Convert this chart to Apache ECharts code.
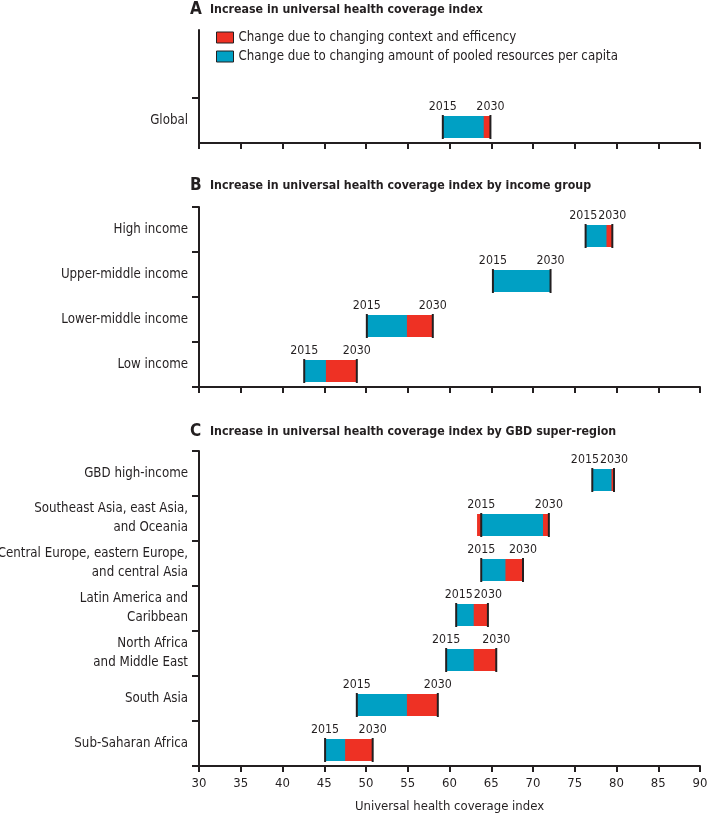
<!DOCTYPE html>
<html><head><meta charset="utf-8">
<script src="https://cdn.jsdelivr.net/npm/echarts@6/dist/echarts.min.js"></script>
<style>html,body{margin:0;padding:0;background:#fff}#c{width:708px;height:815px}</style>
</head><body><div id="c"></div>
<script>
// ---------- data ----------
const seriesNames = ['Change due to changing context and efficency', 'Change due to changing amount of pooled resources per capita'];
const yearLabels = ['2015', '2030'];

const globalCats = ['Global'];
const global2015 = [59.2];
const globalPooledEnd = [64.1];
const global2030 = [64.9];
const globalRedStart = [59.2];

const incomeCats = ['High income', 'Upper-middle income', 'Lower-middle income', 'Low income'];
const income2015 = [76.3, 65.2, 50.1, 42.6];
const incomePooledEnd = [78.8, 72.1, 54.9, 45.2];
const income2030 = [79.5, 72.1, 58.0, 48.9];
const incomeRedStart = [76.3, 65.2, 50.1, 42.6];

const regionCats = ['GBD high-income', 'Southeast Asia, east Asia,\nand Oceania', 'Central Europe, eastern Europe,\nand central Asia', 'Latin America and\nCaribbean', 'North Africa\nand Middle East', 'South Asia', 'Sub-Saharan Africa'];
const region2015 = [77.1, 63.8, 63.8, 60.8, 59.6, 48.9, 45.1];
const regionPooledEnd = [79.4, 71.2, 66.7, 62.9, 62.9, 54.9, 47.5];
const region2030 = [79.7, 71.9, 68.8, 64.6, 65.6, 58.6, 50.8];
const regionRedStart = [77.1, 63.3, 63.8, 60.8, 59.6, 48.9, 45.1];

const titles = [
  ['A', 'Increase in universal health coverage index'],
  ['B', 'Increase in universal health coverage index by income group'],
  ['C', 'Increase in universal health coverage index by GBD super-region']
];
const xAxisName = 'Universal health coverage index';

// ---------- style ----------
const RED = '#EE3124', BLUE = '#00A0C4', INK = '#231F20';
const NARROW = "'DejaVu Sans Condensed', 'Liberation Sans', sans-serif";
const BAR_H = 22, OFF = 6.5;

function rows(cats, y15, pe, y30, rs, yOf) {
  return cats.map((c, i) => ({ y: yOf(i), s: y15[i], p: pe[i], e: y30[i], r: rs[i] }));
}
const panels = [
  rows(globalCats, global2015, globalPooledEnd, global2030, globalRedStart, i => i + 0.5),
  rows(incomeCats, income2015, incomePooledEnd, income2030, incomeRedStart, i => i),
  rows(regionCats, region2015, regionPooledEnd, region2030, regionRedStart, i => i)
];

function rectRender(color) {
  return function (params, api) {
    const y = api.value(0), a = api.value(1), b = api.value(2);
    const p1 = api.coord([a, y]), p2 = api.coord([b, y]);
    if (p2[0] - p1[0] <= 0) return null;
    return { type: 'rect', shape: { x: p1[0], y: p1[1] + OFF - BAR_H / 2, width: p2[0] - p1[0], height: BAR_H },
      style: { fill: color } };
  };
}
function markRender(params, api) {
  const y = api.value(0);
  const p15 = api.coord([api.value(1), y]), p30 = api.coord([api.value(2), y]);
  const top = p15[1] + OFF - BAR_H / 2, bot = top + BAR_H;
  const close = (p30[0] - p15[0]) < 32;
  const txt = (t, x, align) => ({ type: 'text', style: { text: t, x: x, y: top - 3, align: align, verticalAlign: 'bottom',
    fontSize: 12.3, fontFamily: NARROW, fill: INK } });
  return { type: 'group', children: [
    { type: 'line', shape: { x1: p15[0], y1: top - 1, x2: p15[0], y2: bot + 1 }, style: { stroke: INK, lineWidth: 2 } },
    { type: 'line', shape: { x1: p30[0], y1: top - 1, x2: p30[0], y2: bot + 1 }, style: { stroke: INK, lineWidth: 2 } },
    close ? txt(yearLabels[0], p30[0] - 15, 'right') : txt(yearLabels[0], p15[0], 'center'),
    txt(yearLabels[1], p30[0], 'center')
  ] };
}

const grids = [
  { left: 199, right: 8, top: 30, height: 113, outerBoundsMode: 'none', containLabel: false },
  { left: 199, right: 8, top: 207, height: 180, outerBoundsMode: 'none', containLabel: false },
  { left: 199, right: 8, top: 451, height: 315, outerBoundsMode: 'none', containLabel: false }
];
const axisLineStyle = { color: INK, width: 2 };

const xAxes = grids.map((g, i) => ({
  gridIndex: i, type: 'value', min: 30, max: 90, interval: 5,
  axisLine: { show: true, onZero: false, lineStyle: axisLineStyle },
  axisTick: { show: true, length: 6, lineStyle: axisLineStyle },
  splitLine: { show: false },
  axisLabel: { show: i === 2, fontSize: 13, fontFamily: NARROW, color: INK, margin: 11 },
  name: i === 2 ? xAxisName : '', nameLocation: 'middle', nameGap: 34,
  nameTextStyle: { fontSize: 13, fontFamily: NARROW, color: INK }
}));
const yLabel = { fontSize: 13.2, fontFamily: NARROW, color: INK, margin: 11, lineHeight: 19 };
const yAxes = [
  { gridIndex: 0, type: 'value', min: 0, max: 113 / 45,
    axisLine: { show: true, onZero: false, lineStyle: axisLineStyle },
    axisTick: { show: true, length: 7, customValues: [1], lineStyle: axisLineStyle },
    splitLine: { show: false },
    axisLabel: Object.assign({ customValues: [0.5], formatter: v => globalCats[Math.floor(v)] }, yLabel) },
  { gridIndex: 1, type: 'category', inverse: true, data: incomeCats,
    axisLine: { show: true, onZero: false, lineStyle: axisLineStyle },
    axisTick: { show: true, length: 7, lineStyle: axisLineStyle }, axisLabel: yLabel },
  { gridIndex: 2, type: 'category', inverse: true, data: regionCats,
    axisLine: { show: true, onZero: false, lineStyle: axisLineStyle },
    axisTick: { show: true, length: 7, lineStyle: axisLineStyle }, axisLabel: yLabel }
];

const series = [];
panels.forEach((rowsP, i) => {
  series.push({ type: 'custom', name: seriesNames[0], xAxisIndex: i, yAxisIndex: i, z: 2,
    itemStyle: { color: RED }, renderItem: rectRender(RED), encode: { x: [1, 2], y: 0 },
    data: rowsP.map(r => [r.y, r.r, r.e]) });
  series.push({ type: 'custom', name: seriesNames[1], xAxisIndex: i, yAxisIndex: i, z: 3,
    itemStyle: { color: BLUE }, renderItem: rectRender(BLUE), encode: { x: [1, 2], y: 0 },
    data: rowsP.map(r => [r.y, r.s, r.p]) });
  series.push({ type: 'custom', name: 'marks', xAxisIndex: i, yAxisIndex: i, z: 4, silent: true,
    renderItem: markRender, encode: { x: [1, 2], y: 0 },
    data: rowsP.map(r => [r.y, r.s, r.e]) });
});

const titleTops = [0, 176, 422];
const option = {
  animation: false,
  backgroundColor: '#fff',
  title: titles.map((t, i) => ({
    left: 190, top: titleTops[i], padding: 0,
    text: '{l|' + t[0] + '}{t|' + t[1] + '}',
    textStyle: { rich: {
      l: { fontSize: 17, fontWeight: 'bold', fontFamily: NARROW, color: INK, width: 20, lineHeight: 20 },
      t: { fontSize: 12.3, fontWeight: 'bold', fontFamily: NARROW, color: INK, lineHeight: 20 } } }
  })),
  legend: {
    orient: 'vertical', left: 216, top: 30, padding: 0, itemWidth: 17, itemHeight: 11, itemGap: 4,
    selectedMode: false,
    textStyle: { fontSize: 13.2, fontFamily: NARROW, color: INK, lineHeight: 15 },
    data: [
      { name: seriesNames[0], icon: 'rect', itemStyle: { color: RED, borderColor: INK, borderWidth: 1 } },
      { name: seriesNames[1], icon: 'rect', itemStyle: { color: BLUE, borderColor: INK, borderWidth: 1 } }
    ]
  },
  grid: grids,
  xAxis: xAxes,
  yAxis: yAxes,
  series: series
};
const chart = echarts.init(document.getElementById('c'), null, { renderer: 'canvas' });
chart.setOption(option);
</script></body></html>
